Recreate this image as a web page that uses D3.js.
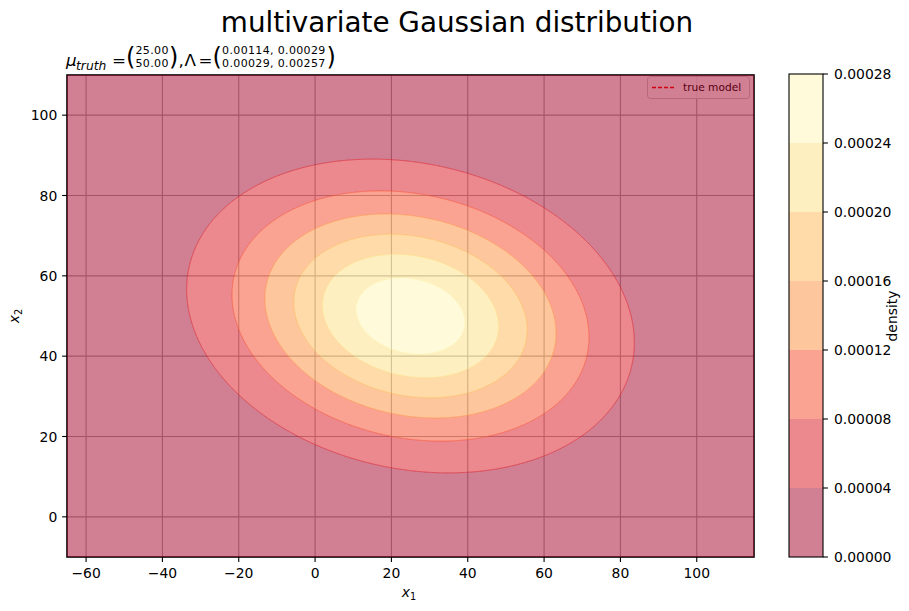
<!DOCTYPE html>
<html><head><meta charset="utf-8">
<script src="https://cdn.jsdelivr.net/npm/d3@7"></script>
<style>
body{margin:0;background:#fff;}
text{font-family:"DejaVu Sans",sans-serif;}
</style></head>
<body><svg id="c" width="909" height="611"></svg>
<script>
// ---- data ----
const mu = [25.00, 50.00];
const Lambda = [[0.00114, 0.00029], [0.00029, 0.00257]];
const levels = [0, 0.00004, 0.00008, 0.00012, 0.00016, 0.00020, 0.00024, 0.00028];
const xDomain = [-65, 115];
const yDomain = [-10, 110];
const xTicks = [-60, -40, -20, 0, 20, 40, 60, 80, 100];
const yTicks = [0, 20, 40, 60, 80, 100];
const cbarTicks = ["0.00000","0.00004","0.00008","0.00012","0.00016","0.00020","0.00024","0.00028"];
const ylorrd = ["#ffffcc","#ffeda0","#fed976","#feb24c","#fd8d3c","#fc4e2a","#e31a1c","#bd0026","#800026"];

// ---- layout ----
const svg = d3.select("#c");
const P = {l:67, r:754, t:75, b:557};
const x = d3.scaleLinear().domain(xDomain).range([P.l, P.r]);
const y = d3.scaleLinear().domain(yDomain).range([P.b, P.t]);
const cmapR = d3.piecewise(d3.interpolateRgb, ylorrd.slice().reverse());
const nBands = levels.length - 1;
const bandColor = i => cmapR((i + 0.5) / nBands);

// density grid
const det = Lambda[0][0]*Lambda[1][1] - Lambda[0][1]*Lambda[1][0];
const norm = Math.sqrt(det) / (2*Math.PI);
function dens(a, b) {
  const dx = a - mu[0], dy = b - mu[1];
  const q = Lambda[0][0]*dx*dx + 2*Lambda[0][1]*dx*dy + Lambda[1][1]*dy*dy;
  return norm * Math.exp(-0.5*q);
}
const nx = 540, ny = 360;
const gx = (xDomain[1]-xDomain[0])/nx, gy = (yDomain[1]-yDomain[0])/ny;
const vals = new Array(nx*ny);
for (let j = 0; j < ny; j++) for (let i = 0; i < nx; i++)
  vals[i + j*nx] = dens(xDomain[0] + (i+0.5)*gx, yDomain[1] - (j+0.5)*gy);
const contours = d3.contours().size([nx, ny]).thresholds(levels.slice(0, nBands))(vals);
const proj = d3.geoTransform({point: function(px, py){
  this.stream.point(x(xDomain[0] + px*gx), y(yDomain[1] - py*gy));
}});
const path = d3.geoPath(proj);

// background
svg.append("rect").attr("width",909).attr("height",611).attr("fill","#fff");

// grid (under the translucent contour fills)
const grid = svg.append("g");
xTicks.forEach(v => grid.append("line").attr("x1",x(v)).attr("x2",x(v)).attr("y1",P.t).attr("y2",P.b)
  .attr("stroke","#a6a6a6").attr("stroke-width",1.1));
yTicks.forEach(v => grid.append("line").attr("x1",P.l).attr("x2",P.r).attr("y1",y(v)).attr("y2",y(v))
  .attr("stroke","#a6a6a6").attr("stroke-width",1.1));

// legend (also beneath the fills)
const lg = svg.append("g");
lg.append("rect").attr("x",647.5).attr("y",76.5).attr("width",102).attr("height",22).attr("rx",3)
  .attr("fill","#fff").attr("fill-opacity",0.8).attr("stroke","#cccccc").attr("stroke-width",1);
lg.append("line").attr("x1",652).attr("x2",674).attr("y1",87.5).attr("y2",87.5)
  .attr("stroke","#ff0000").attr("stroke-width",1.3).attr("stroke-dasharray","4,2");
lg.append("text").attr("x",683).attr("y",91).attr("font-size",10.6).attr("fill","#000").text("true model");

// spines (beneath fills)
svg.append("rect").attr("x",P.l).attr("y",P.t).attr("width",P.r-P.l).attr("height",P.b-P.t)
  .attr("fill","none").attr("stroke","#000").attr("stroke-width",1.6);

// filled bands (evenodd between successive threshold contours)
const fills = svg.append("g");
for (let i = 0; i < nBands; i++) {
  const d = path(contours[i]) + (i+1 < nBands ? path(contours[i+1]) : "");
  fills.append("path").attr("d", d).attr("fill", bandColor(i)).attr("fill-opacity",0.5)
    .attr("fill-rule","evenodd");
}
// seam lines at the band edges
for (let i = 1; i < nBands; i++) {
  fills.append("path").attr("d", path(contours[i])).attr("fill","none")
    .attr("stroke", bandColor(i)).attr("stroke-opacity",0.6).attr("stroke-width",0.9);
}

// axes ticks and labels
const ax = svg.append("g").attr("font-size",13.9).attr("fill","#000");
xTicks.forEach(v => {
  ax.append("line").attr("x1",x(v)).attr("x2",x(v)).attr("y1",P.b).attr("y2",P.b+4.9).attr("stroke","#000").attr("stroke-width",1.1);
  ax.append("text").attr("x",x(v)).attr("y",P.b+21).attr("text-anchor","middle").text(v < 0 ? "\u2212"+(-v) : v);
});
yTicks.forEach(v => {
  ax.append("line").attr("x1",P.l-4.9).attr("x2",P.l).attr("y1",y(v)).attr("y2",y(v)).attr("stroke","#000").attr("stroke-width",1.1);
  ax.append("text").attr("x",P.l-9.7).attr("y",y(v)+5).attr("text-anchor","end").text(v);
});
// axis labels
const xl = ax.append("text").attr("x",409).attr("y",597).attr("text-anchor","middle");
xl.append("tspan").attr("font-style","italic").text("x");
xl.append("tspan").attr("font-size",9.7).attr("dy",3).text("1");
const yl = ax.append("text").attr("transform","translate(19,316) rotate(-90)").attr("text-anchor","middle");
yl.append("tspan").attr("font-style","italic").text("x");
yl.append("tspan").attr("font-size",9.7).attr("dy",3).text("2");

// title
svg.append("text").attr("x",457).attr("y",32).attr("text-anchor","middle").attr("font-size",27.8).text("multivariate Gaussian distribution");

// subtitle (math)
const st = svg.append("g").attr("fill","#000");
function t(xp, yp, s, fs, it){ return st.append("text").attr("x",xp).attr("y",yp).attr("font-size",fs).attr("font-style",it?"italic":"normal").text(s); }
t(66, 66, "\u03bc", 16.7, true);
t(76, 69.5, "truth", 12.3, true);
t(112, 66, "=", 16.7, false);
t(126, 64.5, "(", 24, false);
t(135.5, 54.2, "25.00", 11, false).attr("letter-spacing",0.35);
t(135.5, 67, "50.00", 11, false).attr("letter-spacing",0.35);
t(169, 64.5, ")", 24, false);
t(178.6, 66, ",", 16.7, false);
t(184.5, 66, "\u039b", 16.7, false);
t(198.5, 66, "=", 16.7, false);
t(212.6, 64.5, "(", 24, false);
t(222.1, 54.2, "0.00114, 0.00029", 11, false).attr("letter-spacing",0.35);
t(222.1, 67, "0.00029, 0.00257", 11, false).attr("letter-spacing",0.35);
t(326.5, 64.5, ")", 24, false);

// colorbar
const C = {l:789, r:823, t:74, b:557};
const cy = d3.scaleLinear().domain([levels[0], levels[levels.length-1]]).range([C.b, C.t]);
const cb = svg.append("g");
for (let i = 0; i < nBands; i++) {
  cb.append("rect").attr("x",C.l).attr("width",C.r-C.l).attr("y",cy(levels[i+1])).attr("height",cy(levels[i])-cy(levels[i+1]))
    .attr("fill",bandColor(i)).attr("fill-opacity",0.5);
}
cb.append("rect").attr("x",C.l).attr("y",C.t).attr("width",C.r-C.l).attr("height",C.b-C.t)
  .attr("fill","none").attr("stroke","#000").attr("stroke-width",1.1);
levels.forEach((v,i) => {
  cb.append("line").attr("x1",C.r).attr("x2",C.r+4.9).attr("y1",cy(v)).attr("y2",cy(v)).attr("stroke","#000").attr("stroke-width",1.1);
  cb.append("text").attr("x",C.r+11).attr("y",cy(v)+5).attr("font-size",13.9).text(cbarTicks[i]);
});
cb.append("text").attr("transform","translate(897,316) rotate(-90)").attr("text-anchor","middle").attr("font-size",13.9).text("density");
</script></body></html>
